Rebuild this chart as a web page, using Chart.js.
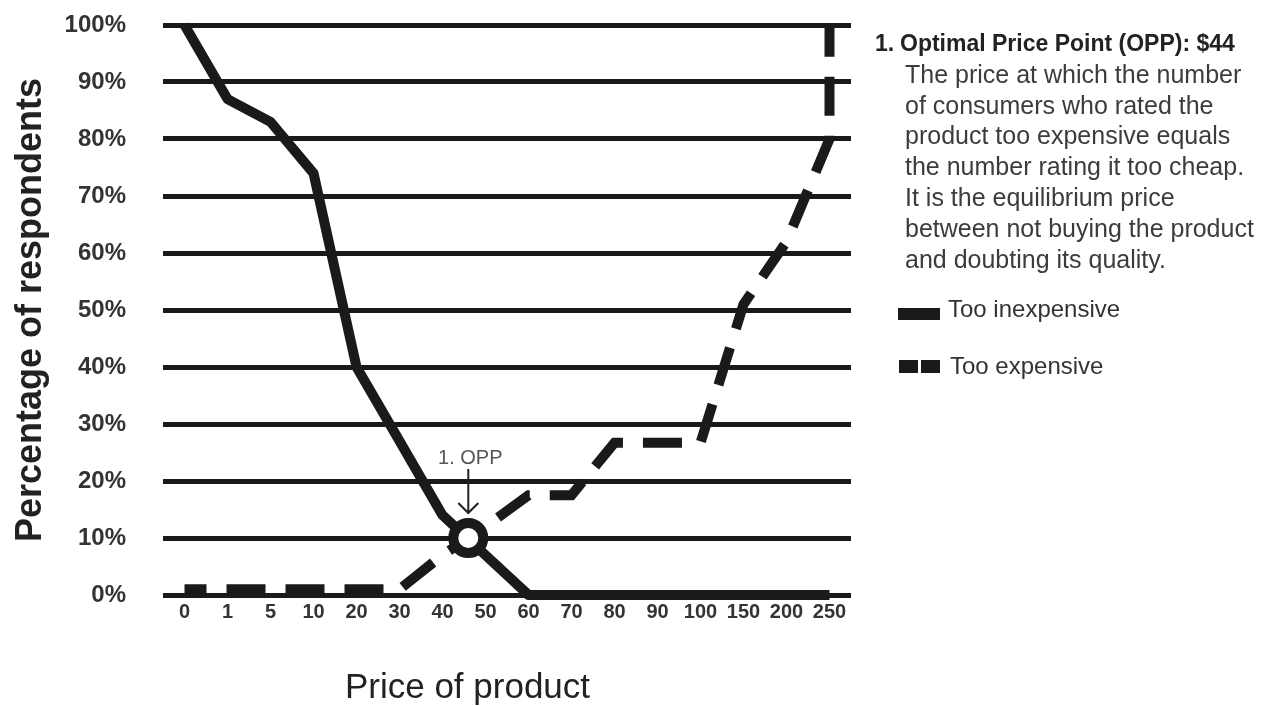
<!DOCTYPE html>
<html>
<head>
<meta charset="utf-8">
<script src="https://cdn.jsdelivr.net/npm/chart.js@4.4.0/dist/chart.umd.min.js"></script>
<style>
  html, body { margin: 0; padding: 0; background: #fff; }
  body { width: 1271px; height: 706px; position: relative; overflow: hidden; font-family: "Liberation Sans", Arial, sans-serif; }
  #chartBox { position: absolute; left: 0; top: 0; width: 935px; height: 706px; }
  #notes { position: absolute; left: 875px; top: 28px; line-height: 30.8px; }
  #notes .head { font-weight: bold; font-size: 23px; color: #222; white-space: nowrap; }
  #notes .head .num { display: inline-block; width: 25px; }
  #notes .body { font-size: 25px; color: #3c3c3c; margin-left: 30px; white-space: nowrap; }
  .legend-item { position: absolute; font-size: 24px; line-height: 24px; color: #333; white-space: nowrap; }
  .sw { position: absolute; background: #1a1a1a; }
</style>
</head>
<body>
<div id="chartBox"><canvas id="vw"></canvas></div>

<div id="notes">
  <div class="head"><span class="num">1.</span>Optimal Price Point (OPP): $44</div>
  <div class="body">The price at which the number<br>of consumers who rated the<br>product too expensive equals<br>the number rating it too cheap.<br>It is the equilibrium price<br>between not buying the product<br>and doubting its quality.</div>
</div>

<div class="sw" style="left:898px; top:308px; width:42px; height:12px;"></div>
<div class="legend-item" style="left:948px; top:297px;">Too inexpensive</div>
<div class="sw" style="left:899px; top:360px; width:19px; height:13px;"></div>
<div class="sw" style="left:921px; top:360px; width:19px; height:13px;"></div>
<div class="legend-item" style="left:950px; top:354px;">Too expensive</div>

<script>
// 価格カテゴリ（横軸）
const priceLabels = ["0", "1", "5", "10", "20", "30", "40", "50", "60", "70", "80", "90", "100", "150", "200", "250"];

// 回答者の割合 (%)
const tooInexpensive = [100, 87, 83, 74, 40, 27, 14, 7, 0, 0, 0, 0, 0, 0, 0, 0];
const tooExpensive = [1, 1, 1, 1, 1, 1, 7, 12, 17.5, 17.5, 26.7, 26.7, 26.7, 51, 62, 80];
const tooExpensiveTop = 100; // 250 で 100% まで垂直に上がる

// OPP（最適価格点）: 40 と 50 の間、10%
const oppPoint = { x: 6.6, y: 10 };

const yTitle = "Percentage of respondents";
const xTitle = "Price of product";

Chart.defaults.font.family = '"Liberation Sans", Arial, sans-serif';

const ink = "#1a1a1a";

const inexpData = tooInexpensive.map((v, i) => ({ x: i, y: v }));
const expData = tooExpensive.map((v, i) => ({ x: i, y: v }));
expData.push({ x: tooExpensive.length - 1, y: tooExpensiveTop });

// OPP の矢印とラベル
const oppMarker = {
  id: "oppMarker",
  afterDatasetsDraw(chart) {
    const pt = chart.getDatasetMeta(2).data[0];
    if (!pt) return;
    const ctx = chart.ctx;
    ctx.save();
    ctx.strokeStyle = "#222";
    ctx.lineWidth = 2;
    ctx.beginPath();
    ctx.moveTo(pt.x, pt.y - 69);
    ctx.lineTo(pt.x, pt.y - 25);
    ctx.moveTo(pt.x - 10, pt.y - 35);
    ctx.lineTo(pt.x, pt.y - 25);
    ctx.lineTo(pt.x + 10, pt.y - 35);
    ctx.stroke();
    ctx.fillStyle = "#555";
    ctx.font = '20px "Liberation Sans", Arial, sans-serif';
    ctx.textAlign = "center";
    ctx.textBaseline = "alphabetic";
    ctx.fillText("1. OPP", pt.x + 2, pt.y - 74);
    ctx.restore();
  }
};

// 横軸タイトル（キャンバス中央）
const xAxisTitle = {
  id: "xAxisTitle",
  afterDraw(chart) {
    const ctx = chart.ctx;
    ctx.save();
    ctx.fillStyle = "#222";
    ctx.font = '35px "Liberation Sans", Arial, sans-serif';
    ctx.textAlign = "center";
    ctx.textBaseline = "alphabetic";
    ctx.fillText(xTitle, chart.width / 2, chart.scales.x.bottom - 8);
    ctx.restore();
  }
};

new Chart(document.getElementById("vw"), {
  type: "line",
  data: {
    datasets: [
      {
        label: "Too inexpensive",
        data: inexpData,
        borderColor: ink,
        borderWidth: 10,
        borderJoinStyle: "round",
        pointRadius: 0,
        tension: 0,
        clip: false,
        order: 1
      },
      {
        label: "Too expensive",
        data: expData,
        borderColor: ink,
        borderWidth: 10,
        borderDash: [39, 20],
        borderDashOffset: 17,
        borderCapStyle: "butt",
        pointRadius: 0,
        tension: 0,
        clip: false,
        order: 2
      },
      {
        label: "OPP",
        type: "scatter",
        data: [oppPoint],
        pointRadius: 15,
        borderWidth: 10,
        borderColor: ink,
        backgroundColor: "#fff",
        clip: false,
        order: 0
      }
    ]
  },
  options: {
    responsive: true,
    maintainAspectRatio: false,
    animation: false,
    events: [],
    layout: { padding: { left: 0, top: 23, right: 84, bottom: 0 } },
    plugins: {
      legend: { display: false },
      tooltip: { enabled: false }
    },
    scales: {
      x: {
        type: "linear",
        min: -0.5,
        max: tooExpensive.length - 0.5,
        afterBuildTicks: (s) => {
          s.ticks = priceLabels.map((_, i) => ({ value: i }));
        },
        afterFit: (s) => { s.height = 111; },
        grid: { display: false, drawTicks: false },
        border: { display: false },
        ticks: {
          autoSkip: false,
          maxRotation: 0,
          minRotation: 0,
          padding: 7,
          color: "#333",
          font: { size: 20, weight: "bold", lineHeight: 1 },
          callback: (v) => priceLabels[v] ?? ""
        }
      },
      y: {
        min: 0,
        max: 100,
        afterFit: (s) => { s.width = 163; },
        grid: {
          color: ink,
          lineWidth: 5,
          drawTicks: true,
          tickLength: 37,
          tickColor: "rgba(0,0,0,0)"
        },
        border: { display: false },
        ticks: {
          stepSize: 10,
          padding: 0,
          color: "#333",
          font: { size: 24, weight: "bold" },
          callback: (v) => v + "%"
        },
        title: {
          display: true,
          text: yTitle,
          color: "#222",
          font: { size: 36, weight: "bold", lineHeight: 1 },
          padding: { top: 13, bottom: 0 }
        }
      }
    }
  },
  plugins: [oppMarker, xAxisTitle]
});
</script>
</body>
</html>
